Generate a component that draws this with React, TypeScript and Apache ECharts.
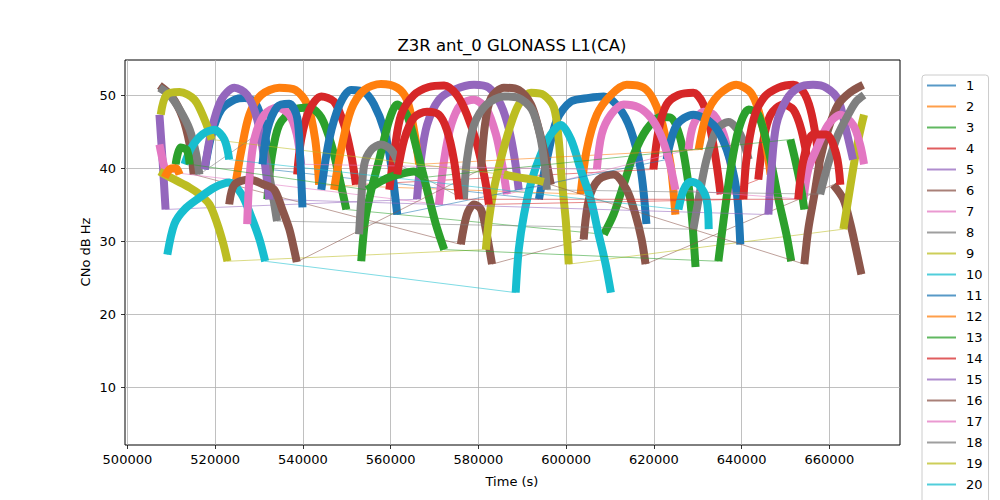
import React, { useEffect, useRef } from "react";
import * as echarts from "echarts";

const COLORS = ["#1f77b4", "#ff7f0e", "#2ca02c", "#d62728", "#9467bd", "#8c564b", "#e377c2", "#7f7f7f", "#bcbd22", "#17becf"];
const X_TICKS = [500000, 520000, 540000, 560000, 580000, 600000, 620000, 640000, 660000];
const Y_TICKS = [10, 20, 30, 40, 50];
const TITLE = "Z3R ant_0 GLONASS L1(CA)";
const X_NAME = "Time (s)";
const Y_NAME = "CNo dB Hz";

// each satellite: list of passes, each pass: [time (s), CNo (dB Hz)]
const sat01 = [
  [[517600, 39.9], [519200, 44.7], [521400, 48.1], [524400, 49.45], [526700, 49.7], [528900, 49.2], [530500, 47.0], [531700, 43.3], [532300, 39.9]],
  [[593800, 35.8], [595600, 41.25], [597900, 46.7], [601100, 49.2], [605200, 49.7], [608600, 49.9], [612000, 48.4], [614700, 45.35], [617000, 39.9], [618300, 32.4]],
];
const sat02 = [
  [[524600, 37.8], [526000, 42.6], [527800, 47.4], [530500, 50.1], [534600, 51.1], [538300, 50.8], [541000, 48.8], [542800, 44.0], [543700, 37.8]],
  [[603300, 36.5], [604700, 42.6], [607000, 47.4], [610200, 50.1], [613800, 51.5], [617700, 51.1], [619900, 49.45], [622000, 46.0], [623800, 40.6], [624900, 33.7]],
];
const sat03 = [
  [[531900, 35.8], [532800, 41.25], [534600, 46.0], [538000, 48.1], [541500, 48.4], [544200, 47.0], [546500, 43.3], [548400, 38.5], [549900, 34.4]],
  [[608600, 31.0], [610800, 33.7], [613100, 37.8], [615400, 41.9], [618300, 45.35], [621500, 47.1], [623800, 47.0], [626100, 44.0], [627900, 37.8], [628800, 32.4], [629500, 26.5]],
];
const sat04 = [
  [[538700, 39.2], [539600, 44.0], [541500, 48.1], [544200, 49.9], [547100, 49.2], [549400, 46.0], [551000, 41.9], [552100, 37.8]],
  [[619900, 39.9], [621100, 45.35], [622900, 48.8], [625600, 50.1], [629000, 50.4], [631300, 48.8], [632900, 45.35], [634300, 40.6], [635200, 36.5]],
  [[643800, 38.5], [645000, 44.0], [646600, 47.4], [649500, 48.8], [651800, 48.1], [653600, 45.35], [655200, 40.6]],
];
const sat05 = [
  [[507300, 47.4], [508000, 41.25], [508700, 34.4]],
  [[566000, 35.8], [566900, 41.25], [568300, 46.0], [571000, 49.45], [574400, 50.8], [579000, 51.5], [582400, 51.1], [585100, 48.8], [587000, 45.35], [588300, 41.25], [589200, 37.1]],
];
const sat06 = [
  [[507300, 51.4], [510100, 49.9], [512600, 47.0], [514200, 43.3], [515100, 39.2]],
  [[576000, 29.6], [577400, 33.7], [579000, 35.1], [580600, 34.4], [581900, 31.0], [583100, 26.9]],
  [[604000, 30.3], [605200, 35.8], [607400, 38.5], [610800, 39.2], [613800, 37.1], [615800, 33.7], [617200, 30.3], [618100, 26.9]],
  [[660900, 37.8], [663200, 35.8], [664800, 32.4], [666100, 28.9], [667300, 25.5]],
];
const sat07 = [
  [[507300, 43.3], [508000, 41.25], [508700, 39.6]],
  [[571000, 35.1], [572200, 41.25], [573800, 46.0], [576000, 48.8], [579000, 49.45], [581900, 48.1], [584000, 44.7], [585400, 40.6], [586500, 36.5]],
  [[627900, 42.6], [629000, 46.0], [631300, 47.8], [633600, 47.4], [635900, 44.7], [637500, 40.6], [638600, 36.5]],
];
const sat08 = [
  [[507300, 51.1], [509600, 50.1], [511900, 48.1], [514200, 45.35], [515700, 41.9], [516400, 39.2]],
  [[529600, 44.7], [531200, 42.6], [532300, 39.2], [533300, 35.8], [534100, 32.8]],
  [[629000, 31.7], [630200, 35.8], [632000, 41.25], [634300, 45.35], [637000, 46.4], [639700, 44.7], [641600, 41.25]],
];
const sat09 = [
  [[507300, 39.6], [510700, 38.5], [514200, 37.4], [516400, 36.5], [518700, 35.1], [520500, 32.4], [521900, 29.6], [522800, 27.3]],
  [[581700, 28.9], [582400, 33.0], [583500, 37.1], [585100, 41.25], [587000, 45.35], [589200, 48.8], [592000, 50.4], [594900, 50.1], [597200, 48.4], [598300, 44.0], [599000, 38.5], [599900, 33.0], [600600, 26.9]],
  [[663200, 31.7], [664300, 35.8], [665400, 39.9], [666600, 44.0], [667900, 47.4]],
];
const sat10 = [
  [[509100, 28.2], [510700, 32.4], [513000, 34.4], [516400, 36.0], [519800, 37.4], [523200, 38.1], [526000, 36.5], [528300, 33.3], [530100, 30.3], [531400, 27.3]],
  [[588500, 23.0], [589200, 28.9], [590400, 33.7], [592200, 38.5], [594200, 41.9], [596500, 44.7], [598800, 46.0], [601100, 44.0], [603300, 39.9], [605600, 35.8], [607400, 31.0], [609000, 26.9], [610200, 23.0]],
];
const sat11 = [
  [[544200, 37.1], [546000, 44.0], [548400, 48.8], [551000, 50.8], [554000, 50.5], [556200, 48.8], [558500, 45.35], [560100, 40.6], [561500, 33.7]],
  [[622900, 41.25], [625200, 46.0], [629000, 47.4], [633600, 46.0], [636600, 42.6], [638800, 37.1], [639700, 29.6]],
];
const sat12 = [
  [[547100, 37.1], [548700, 42.6], [551000, 48.1], [554000, 50.8], [557800, 51.6], [561500, 51.1], [563700, 49.45], [565300, 45.35], [566500, 40.6]],
  [[630200, 42.6], [632000, 47.4], [634700, 50.1], [638800, 51.5], [642000, 50.5], [643800, 48.1], [645400, 44.0], [646600, 39.2]],
];
const sat13 = [
  [[553300, 27.3], [554200, 33.0], [555600, 37.1], [557400, 41.25], [559700, 46.7], [561500, 48.8], [563700, 47.4], [566000, 42.6], [568300, 37.1], [570300, 32.4], [572200, 28.9]],
  [[634700, 27.3], [635900, 33.0], [637500, 39.9], [639300, 45.35], [641600, 48.1], [643800, 47.4], [646100, 42.6], [648400, 35.8], [650200, 31.0], [651300, 27.3]],
];
const sat14 = [
  [[559700, 37.1], [560900, 42.6], [562400, 47.4], [565300, 50.1], [568700, 51.2], [572200, 51.4], [575100, 50.1], [577400, 47.4], [579700, 43.3], [581500, 38.5], [582400, 35.1]],
  [[640400, 35.8], [641100, 41.25], [642700, 46.7], [645000, 49.7], [648400, 51.1], [651800, 51.5], [654100, 50.5], [655700, 48.1], [657000, 44.0], [657900, 39.2]],
];
const sat15 = [
  [[517600, 39.9], [519200, 45.35], [521400, 49.45], [524400, 51.1], [527300, 50.1], [529600, 46.7], [531200, 41.25], [532300, 35.8]],
  [[646100, 33.7], [646800, 39.9], [647900, 46.0], [650200, 49.45], [652900, 51.1], [656300, 51.5], [659300, 51.1], [662000, 49.45], [663800, 45.35], [665400, 41.25]],
];
const sat16 = [
  [[523200, 35.1], [524400, 37.8], [527800, 38.5], [531200, 37.8], [533500, 37.1], [535300, 34.4], [536900, 31.7], [538000, 28.9], [538600, 27.2]],
  [[580600, 39.9], [581500, 46.0], [582900, 49.7], [585800, 51.1], [589200, 50.8], [592000, 48.8], [593800, 45.35], [595400, 41.25], [596500, 37.8]],
  [[654300, 26.9], [655200, 31.7], [656600, 36.5], [657900, 41.25], [659700, 45.35], [662000, 48.8], [664800, 50.5], [667700, 51.5]],
];
const sat17 = [
  [[527300, 32.4], [527800, 38.5], [528900, 44.0], [531200, 47.4], [534200, 48.4], [536900, 47.4], [538600, 44.7], [539600, 40.6]],
  [[607000, 39.9], [608100, 44.7], [610200, 47.4], [613100, 48.8], [616500, 48.4], [619300, 47.0], [621500, 44.7], [623400, 41.25], [624900, 37.1]],
  [[654100, 35.8], [655200, 39.9], [657000, 42.6], [659700, 46.0], [662500, 47.4], [665400, 46.0], [667000, 43.3], [667900, 40.6]],
];
const sat18 = [
  [[552800, 31.0], [553300, 35.8], [554000, 40.6], [555600, 42.6], [557800, 43.3], [560100, 42.6], [561900, 40.6]],
  [[576700, 35.8], [577400, 41.25], [579000, 46.0], [581900, 48.8], [585800, 49.9], [589200, 49.7], [592200, 48.1], [594000, 44.7], [595100, 40.6], [595600, 37.1]],
  [[657900, 36.5], [659700, 40.6], [662000, 44.7], [664300, 47.4], [666100, 49.2], [667900, 50.1]],
];
const sat19 = [
  [[507600, 47.4], [508900, 50.1], [511900, 50.5], [515300, 49.45], [517600, 46.7], [519200, 44.0]],
  [[585800, 39.2], [589200, 38.8], [592600, 38.5], [594900, 38.2]],
];
const sat20 = [
  [[513000, 40.6], [514600, 42.9], [517100, 44.7], [519800, 45.35], [522100, 44.0], [523200, 41.25]],
  [[625600, 34.4], [626800, 37.1], [628400, 38.2], [630200, 37.8], [632000, 35.8], [632500, 31.7]],
];
const sat21 = [
  [[530800, 40.6], [531900, 45.35], [534200, 48.5], [536900, 48.9], [538700, 47.0], [539400, 41.25], [539900, 34.7]],
];
const sat22 = [
  [[508500, 38.8], [509600, 39.9], [511000, 40.1], [511900, 39.2]],
];
const sat23 = [
  [[511000, 40.6], [512100, 42.9], [513500, 42.6], [514200, 40.6]],
  [[554600, 37.1], [558500, 38.5], [561900, 39.2], [565300, 39.6], [567600, 38.8]],
  [[651100, 44.0], [652200, 41.25], [653400, 37.8], [654300, 34.4]],
];
const sat24 = [
  [[561500, 39.2], [563100, 44.0], [565300, 47.0], [568300, 47.8], [571000, 47.4], [572800, 45.35], [574400, 41.25], [575600, 35.8]],
  [[652900, 35.8], [654100, 41.25], [656300, 44.7], [659300, 44.7], [661600, 41.9], [662500, 37.8]],
];

const SATS = [sat01, sat02, sat03, sat04, sat05, sat06, sat07, sat08, sat09, sat10, sat11, sat12,
  sat13, sat14, sat15, sat16, sat17, sat18, sat19, sat20, sat21, sat22, sat23, sat24];
const SAT_NAMES = ["1", "2", "3", "4", "5", "6", "7", "8", "9", "10", "11", "12",
  "13", "14", "15", "16", "17", "18", "19", "20", "21", "22", "23", "24"];

const FONT = "'DejaVu Sans', 'Liberation Sans', sans-serif";

function fade(hex: string, a: number) {
  const r = parseInt(hex.slice(1, 3), 16);
  const g = parseInt(hex.slice(3, 5), 16);
  const b = parseInt(hex.slice(5, 7), 16);
  return `rgba(${r},${g},${b},${a})`;
}

function buildOption() {
  const series: any[] = [];
  SATS.forEach((passes, i) => {
    const name = SAT_NAMES[i];
    const color = COLORS[i % COLORS.length];
    series.push({
      type: "line",
      name,
      data: passes.flat(),
      symbol: "none",
      showSymbol: false,
      silent: true,
      itemStyle: { color },
      lineStyle: { color: fade(color, 0.7), width: 0.8 },
    });
    passes.forEach((p) => {
      series.push({
        type: "line",
        name,
        data: p,
        symbol: "none",
        showSymbol: false,
        silent: true,
        smooth: 0.3,
        itemStyle: { color },
        lineStyle: { color, width: 8, join: "round", cap: "butt" },
      });
    });
  });

  return {
    animation: false,
    backgroundColor: "#ffffff",
    textStyle: { fontFamily: FONT },
    grid: { left: 125, top: 60, width: 775, height: 385, show: true, borderColor: "#000", borderWidth: 1, containLabel: false },
    xAxis: {
      type: "value",
      min: 499450,
      max: 676100,
      axisLine: { show: false },
      axisTick: { show: true, length: 4, customValues: X_TICKS, lineStyle: { color: "#000", width: 0.8 } },
      axisLabel: { customValues: X_TICKS, fontSize: 13, color: "#000", fontFamily: FONT, margin: 8, formatter: (v: number) => String(v) },
      splitLine: { show: true, lineStyle: { color: "#b0b0b0", width: 0.8 } },
    },
    yAxis: {
      type: "value",
      min: 2.1,
      max: 54.9,
      axisLine: { show: false },
      axisTick: { show: true, length: 4, customValues: Y_TICKS, lineStyle: { color: "#000", width: 0.8 } },
      axisLabel: { customValues: Y_TICKS, fontSize: 13, color: "#000", fontFamily: FONT, margin: 9, formatter: (v: number) => String(v) },
      splitLine: { show: true, lineStyle: { color: "#b0b0b0", width: 0.8 } },
    },
    legend: {
      orient: "vertical",
      left: 922,
      top: 75,
      height: 600,
      padding: [4, 6, 4, 5],
      itemWidth: 29,
      itemHeight: 2,
      itemGap: 8,
      icon: "rect",
      selectedMode: false,
      backgroundColor: "rgba(255,255,255,0.8)",
      borderColor: "#cccccc",
      borderWidth: 1,
      borderRadius: 3,
      textStyle: { fontSize: 13, color: "#000", fontFamily: FONT, padding: [0, 0, 0, 5] },
      data: SAT_NAMES.map((n, i) => ({ name: n, itemStyle: { color: fade(COLORS[i % COLORS.length], 0.75) } })),
    },
    graphic: [
      { type: "text", x: 512, y: 45, style: { text: TITLE, fill: "#000", font: `16.5px ${FONT}`, align: "center", verticalAlign: "middle", textAlign: "center", textVerticalAlign: "middle" } },
      { type: "text", x: 512, y: 481, style: { text: X_NAME, fill: "#000", font: `13px ${FONT}`, align: "center", verticalAlign: "middle", textAlign: "center", textVerticalAlign: "middle" } },
      { type: "text", x: 85, y: 252, rotation: Math.PI / 2, style: { text: Y_NAME, fill: "#000", font: `13px ${FONT}`, align: "center", verticalAlign: "middle", textAlign: "center", textVerticalAlign: "middle" } },
    ],
    series,
  };
}

export default function App() {
  const ref = useRef<HTMLDivElement>(null);
  useEffect(() => {
    if (!ref.current) return;
    const chart = echarts.init(ref.current, undefined, { renderer: "svg" });
    chart.setOption(buildOption() as any);
    return () => chart.dispose();
  }, []);
  return <div ref={ref} style={{ position: "absolute", left: 0, top: 0, width: 1000, height: 500 }} />;
}
